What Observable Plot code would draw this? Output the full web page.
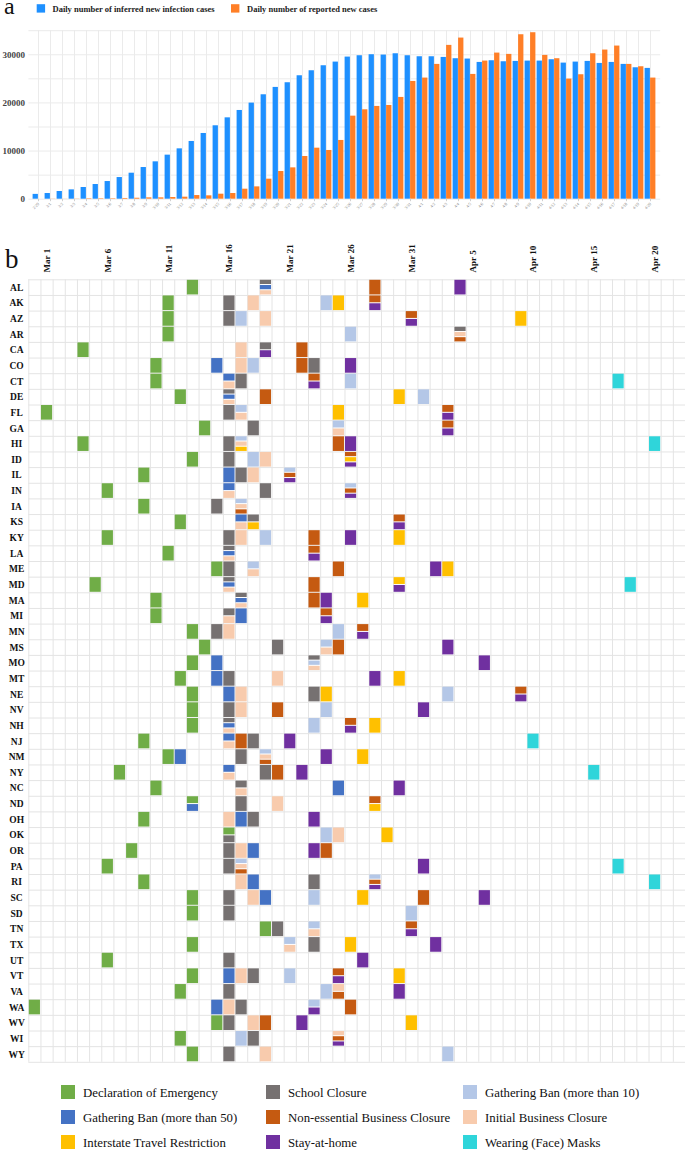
<!DOCTYPE html>
<html><head><meta charset="utf-8">
<script src="https://cdn.jsdelivr.net/npm/d3@7"></script>
<script src="https://cdn.jsdelivr.net/npm/@observablehq/plot@0.6"></script>
<style>
body{margin:0;background:#fff;}
#root{position:relative;width:685px;height:1153px;overflow:hidden;background:#fff;}
#root > svg, #root > figure{position:absolute;left:0;margin:0;}
</style></head><body><div id="root"></div>
<script>
// ---------- Panel a data ----------
const days = ["2/29","3/1","3/2","3/3","3/4","3/5","3/6","3/7","3/8","3/9","3/10","3/11","3/12","3/13","3/14","3/15","3/16","3/17","3/18","3/19","3/20","3/21","3/22","3/23","3/24","3/25","3/26","3/27","3/28","3/29","3/30","3/31","4/1","4/2","4/3","4/4","4/5","4/6","4/7","4/8","4/9","4/10","4/11","4/12","4/13","4/14","4/15","4/16","4/17","4/18","4/19","4/20"];
const inferred = [1000,1180,1600,1940,2430,3050,3670,4500,5400,6580,7760,9150,10460,11990,13650,15250,16900,18430,19960,21690,23220,24190,25640,26680,27720,28480,29520,29800,30010,29940,30210,29800,29590,29590,29450,29180,29110,28410,28760,28550,28620,28690,28690,28970,28270,28480,28620,28200,28410,28000,27300,27170];
const reported = [0,30,20,40,100,100,100,150,200,280,280,350,420,760,700,1040,1180,2080,2560,4160,5750,6510,8870,10600,10120,12200,17250,18570,19270,19470,21140,24460,25160,28000,31950,33470,25920,28690,30350,30080,34160,34580,29870,29180,24950,25850,30210,30980,31810,28000,27510,25160];
const seriesNames = ["Daily number of inferred new infection cases","Daily number of reported new cases"];
const seriesColors = ["#1E90FF","#FF7F27"];
const yTicksA = [0,10000,20000,30000];
const yGridA = [0,5000,10000,15000,20000,25000,30000,35000];

// ---------- Panel b data ----------
const states = ["AL","AK","AZ","AR","CA","CO","CT","DE","FL","GA","HI","ID","IL","IN","IA","KS","KY","LA","ME","MD","MA","MI","MN","MS","MO","MT","NE","NV","NH","NJ","NM","NY","NC","ND","OH","OK","OR","PA","RI","SC","SD","TN","TX","UT","VT","VA","WA","WV","WI","WY"];
const gridDays = ["2/29","3/1","3/2","3/3","3/4","3/5","3/6","3/7","3/8","3/9","3/10","3/11","3/12","3/13","3/14","3/15","3/16","3/17","3/18","3/19","3/20","3/21","3/22","3/23","3/24","3/25","3/26","3/27","3/28","3/29","3/30","3/31","4/1","4/2","4/3","4/4","4/5","4/6","4/7","4/8","4/9","4/10","4/11","4/12","4/13","4/14","4/15","4/16","4/17","4/18","4/19","4/20","4/21","4/22"];
const tickDays = ["3/1","3/6","3/11","3/16","3/21","3/26","3/31","4/5","4/10","4/15","4/20"];
const tickLabels = ["Mar 1","Mar 6","Mar 11","Mar 16","Mar 21","Mar 26","Mar 31","Apr 5","Apr 10","Apr 15","Apr 20"];
const policyCodes = ["E","S","G10","G50","N","I","T","H","M"];
const policyNames = ["Declaration of Emergency","School Closure","Gathering Ban (more than 10)","Gathering Ban (more than 50)","Non-essential Business Closure","Initial Business Closure","Interstate Travel Restriction","Stay-at-home","Wearing (Face) Masks"];
const policyColors = ["#70AD47","#767171","#B4C7E7","#4472C4","#C55A11","#F8CBAD","#FFC000","#7030A0","#2FD5DA"];
const events = [
["AL","3/13","E"],["AL","3/19","S,G50,I"],["AL","3/28","N"],["AL","4/4","H"],
["AK","3/11","E"],["AK","3/16","S"],["AK","3/18","I"],["AK","3/24","G10"],["AK","3/25","T"],["AK","3/28","N,H"],
["AZ","3/11","E"],["AZ","3/16","S"],["AZ","3/17","G10"],["AZ","3/19","I"],["AZ","3/31","N,H"],["AZ","4/9","T"],
["AR","3/11","E"],["AR","3/26","G10"],["AR","4/4","S,I,N"],
["CA","3/4","E"],["CA","3/17","I"],["CA","3/19","S,H"],["CA","3/22","N"],
["CO","3/10","E"],["CO","3/15","G50"],["CO","3/17","I"],["CO","3/18","G10"],["CO","3/22","N"],["CO","3/23","S"],["CO","3/26","H"],
["CT","3/10","E"],["CT","3/16","G50,I"],["CT","3/17","S"],["CT","3/23","N,H"],["CT","3/26","G10"],["CT","4/17","M"],
["DE","3/12","E"],["DE","3/16","S,G50,I"],["DE","3/19","N"],["DE","3/30","T"],["DE","4/1","G10"],
["FL","3/1","E"],["FL","3/16","S"],["FL","3/17","G10,I"],["FL","3/25","T"],["FL","4/3","N,H"],
["GA","3/14","E"],["GA","3/18","S"],["GA","3/25","G10,I"],["GA","4/3","N,H"],
["HI","3/4","E"],["HI","3/16","S"],["HI","3/17","G10,I,T"],["HI","3/25","N"],["HI","3/26","H"],["HI","4/20","M"],
["ID","3/13","E"],["ID","3/16","S"],["ID","3/18","G10"],["ID","3/19","I"],["ID","3/26","N,T,H"],
["IL","3/9","E"],["IL","3/16","G50"],["IL","3/17","S"],["IL","3/18","I"],["IL","3/21","G10,N,H"],
["IN","3/6","E"],["IN","3/16","G50,I"],["IN","3/19","S"],["IN","3/26","G10,N,H"],
["IA","3/9","E"],["IA","3/15","S"],["IA","3/17","G10,I,N"],
["KS","3/12","E"],["KS","3/17","G50,I"],["KS","3/18","S,T"],["KS","3/30","N,H"],
["KY","3/6","E"],["KY","3/16","S"],["KY","3/17","I"],["KY","3/19","G10"],["KY","3/23","N"],["KY","3/26","H"],["KY","3/30","T"],
["LA","3/11","E"],["LA","3/16","S,G50,I"],["LA","3/23","N,H"],
["ME","3/15","E"],["ME","3/16","S"],["ME","3/18","G10,I"],["ME","3/25","N"],["ME","4/2","H"],["ME","4/3","T"],
["MD","3/5","E"],["MD","3/16","S,G50,I"],["MD","3/23","N"],["MD","3/30","T,H"],["MD","4/18","M"],
["MA","3/10","E"],["MA","3/17","S,G50,I"],["MA","3/23","N"],["MA","3/24","H"],["MA","3/27","T"],
["MI","3/10","E"],["MI","3/16","S,I"],["MI","3/17","G50"],["MI","3/24","N,H"],
["MN","3/13","E"],["MN","3/15","S"],["MN","3/16","I"],["MN","3/25","G10"],["MN","3/27","N,H"],
["MS","3/14","E"],["MS","3/20","S"],["MS","3/24","G10,I"],["MS","3/25","N"],["MS","4/3","H"],
["MO","3/13","E"],["MO","3/15","G50"],["MO","3/23","S,G10,I"],["MO","4/6","H"],
["MT","3/12","E"],["MT","3/15","G50"],["MT","3/16","S"],["MT","3/20","I"],["MT","3/28","H"],["MT","3/30","T"],
["NE","3/13","E"],["NE","3/16","G50"],["NE","3/17","I"],["NE","3/23","S"],["NE","3/24","T"],["NE","4/3","G10"],["NE","4/9","N,H"],
["NV","3/13","E"],["NV","3/16","S"],["NV","3/17","I"],["NV","3/20","N"],["NV","3/24","G10"],["NV","4/1","H"],
["NH","3/13","E"],["NH","3/16","S,G50,I"],["NH","3/23","G10"],["NH","3/26","N,H"],["NH","3/28","T"],
["NJ","3/9","E"],["NJ","3/16","G50,I"],["NJ","3/17","N"],["NJ","3/18","S"],["NJ","3/21","H"],["NJ","4/10","M"],
["NM","3/11","E"],["NM","3/12","G50"],["NM","3/17","S"],["NM","3/19","G10,I,N"],["NM","3/24","H"],["NM","3/27","T"],
["NY","3/7","E"],["NY","3/16","G50,I"],["NY","3/19","S"],["NY","3/20","N"],["NY","3/22","H"],["NY","4/15","M"],
["NC","3/10","E"],["NC","3/17","S,I"],["NC","3/25","G50"],["NC","3/30","H"],
["ND","3/13","E,G50"],["ND","3/17","S"],["ND","3/20","I"],["ND","3/28","N,T"],
["OH","3/9","E"],["OH","3/16","I"],["OH","3/17","G50"],["OH","3/18","S"],["OH","3/23","H"],
["OK","3/16","E,S"],["OK","3/24","G10"],["OK","3/25","I"],["OK","3/29","T"],
["OR","3/8","E"],["OR","3/16","S"],["OR","3/17","I"],["OR","3/18","G50"],["OR","3/23","H"],["OR","3/24","N"],
["PA","3/6","E"],["PA","3/16","S"],["PA","3/17","G10,I,N"],["PA","4/1","H"],["PA","4/17","M"],
["RI","3/9","E"],["RI","3/17","I"],["RI","3/18","G50"],["RI","3/23","S"],["RI","3/28","G10,N,H"],["RI","4/20","M"],
["SC","3/13","E"],["SC","3/16","S"],["SC","3/18","I"],["SC","3/19","G50"],["SC","3/23","G10"],["SC","3/27","T"],["SC","4/1","N"],["SC","4/6","H"],
["SD","3/13","E"],["SD","3/16","S"],["SD","3/31","G10"],
["TN","3/19","E"],["TN","3/20","S"],["TN","3/23","G10,I"],["TN","3/31","N,H"],
["TX","3/13","E"],["TX","3/21","G10,I"],["TX","3/23","S"],["TX","3/26","T"],["TX","4/2","H"],
["UT","3/6","E"],["UT","3/16","S"],["UT","3/27","H"],
["VT","3/13","E"],["VT","3/16","G50"],["VT","3/17","I"],["VT","3/18","S"],["VT","3/21","G10"],["VT","3/25","N,H"],["VT","3/30","T"],
["VA","3/12","E"],["VA","3/16","S"],["VA","3/24","G10"],["VA","3/25","I,N"],["VA","3/30","H"],
["WA","2/29","E"],["WA","3/15","G50"],["WA","3/16","I"],["WA","3/17","S"],["WA","3/23","G10,H"],["WA","3/26","N"],
["WV","3/15","E"],["WV","3/16","S"],["WV","3/18","I"],["WV","3/19","N"],["WV","3/22","H"],["WV","3/31","T"],
["WI","3/12","E"],["WI","3/17","G10"],["WI","3/18","S"],["WI","3/25","I,N,H"],
["WY","3/13","E"],["WY","3/16","S"],["WY","3/19","I"],["WY","4/3","G10"]
];

const FONT = "'Liberation Serif', 'Times New Roman', serif";
const root = document.getElementById("root");

// ---------- Panel a ----------
const aData = days.map((d, i) => ({day: d, inferred: inferred[i], reported: reported[i]}));
const chartA = Plot.plot({
  width: 685, height: 222,
  marginLeft: 28.4, marginRight: 24.8, marginTop: 30.2, marginBottom: 23.3,
  style: {fontFamily: FONT, background: "white", overflow: "visible"},
  x: {type: "band", domain: days, padding: 0},
  y: {domain: [0, 35000]},
  marks: [
    Plot.gridX({stroke: "#ebebeb", strokeOpacity: 1}),
    Plot.gridY({ticks: yGridA, stroke: "#ebebeb", strokeOpacity: 1}),
    Plot.barY(aData, {x: "day", y: "inferred", fill: seriesColors[0], insetLeft: 0.6, insetRight: 6.1}),
    Plot.barY(aData, {x: "day", y: "reported", fill: seriesColors[1], insetLeft: 6.1, insetRight: 0.6}),
    Plot.axisY({ticks: yTicksA, tickFormat: d3.format("d"), tickSize: 0, tickPadding: 4, fontSize: 9, fontWeight: "bold", fill: "#444", label: null}),
    Plot.axisX({tickRotate: -45, fontSize: 4.2, tickSize: 2.5, tickPadding: 1.5, fill: "#777", stroke: "#cfcfcf", label: null})
  ]
});
chartA.style.top = "0px";
root.appendChild(chartA);

// ---------- Panel b ----------
const cells = [];
events.forEach(([st, day, codes]) => {
  const list = codes.split(",");
  list.forEach((c, k) => cells.push({state: st, day, code: c, row: states.indexOf(st), col: gridDays.indexOf(day), k, n: list.length}));
});
const ticks = tickDays.map((d, i) => ({day: d, label: tickLabels[i]}));
const nCols = gridDays.length, nRows = states.length;
const chartB = Plot.plot({
  width: 685, height: 826,
  marginLeft: 28.3, marginRight: 0, marginTop: 39.3, marginBottom: 4.2,
  style: {fontFamily: FONT, background: "transparent", overflow: "visible"},
  x: {domain: [0, nCols], axis: null},
  y: {domain: [0, nRows], reverse: true, axis: null},
  color: {type: "ordinal", domain: policyCodes, range: policyColors},
  marks: [
    Plot.ruleX(d3.range(nCols + 1), {x: d => d, y1: 0, y2: nRows, stroke: "#e4e4e4", strokeWidth: 1}),
    Plot.ruleY(d3.range(nRows + 1), {y: d => d, x1: 0, x2: nCols, stroke: "#e4e4e4", strokeWidth: 1}),
    Plot.rect(cells, {
      x1: "col", x2: d => d.col + 1,
      y1: d => d.row + d.k / d.n, y2: d => d.row + (d.k + 1) / d.n,
      fill: "code", inset: 0.5
    }),
    Plot.text(states, {x: () => -1, y: (d, i) => i + 0.5, text: d => d, fontSize: 9.5, fontWeight: "bold", fill: "#111", textAnchor: "middle"}),
    Plot.text(ticks, {x: d => gridDays.indexOf(d.day) + 0.5, y: () => -0.47, text: "label", rotate: -90, textAnchor: "start", lineAnchor: "middle", fontSize: 9, fontWeight: "bold", fill: "#111"})
  ]
});
chartB.style.top = "240px";
root.appendChild(chartB);

// ---------- Overlay: panel letters and legends ----------
const ov = d3.select(root).append("svg")
  .attr("width", 685).attr("height", 1153)
  .style("position", "absolute").style("left", "0px").style("top", "0px")
  .style("pointer-events", "none").style("font-family", FONT);

ov.append("text").attr("x", 4).attr("y", 14).attr("font-size", 24).attr("fill", "#111").text("a");
ov.append("text").attr("x", 5).attr("y", 268).attr("font-size", 27).attr("fill", "#111").text("b");

// panel a legend
const legA = [{x: 36.7, tx: 52.5}, {x: 231, tx: 247}];
seriesNames.forEach((name, i) => {
  ov.append("rect").attr("x", legA[i].x).attr("y", 4.2).attr("width", 8.4).attr("height", 8.4).attr("fill", seriesColors[i]);
  ov.append("text").attr("x", legA[i].tx).attr("y", 11.6).attr("font-size", 8.5).attr("font-weight", "bold").attr("fill", "#222").text(name);
});

// panel b legend
const legColX = [61, 266, 463];
const legRowY = [1092, 1117, 1142];
policyNames.forEach((name, i) => {
  const cx = legColX[i % 3], cy = legRowY[Math.floor(i / 3)];
  ov.append("rect").attr("x", cx).attr("y", cy - 7).attr("width", 14).attr("height", 14).attr("fill", policyColors[i]);
  ov.append("text").attr("x", cx + 22).attr("y", cy + 4.5).attr("font-size", 12.8).attr("fill", "#111").text(name);
});
</script></body></html>
